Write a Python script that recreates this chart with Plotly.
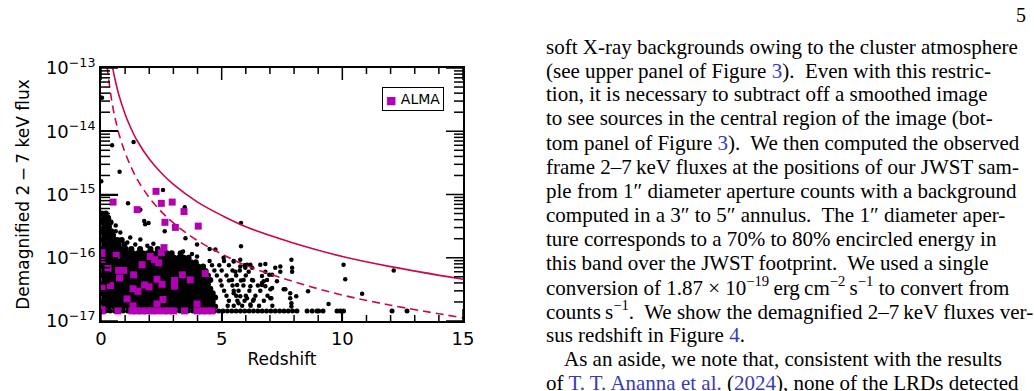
import plotly.graph_objects as go

# ---------------- data ----------------
# limiting-luminosity curves: redshift and log10 flux
SOLID_Z = [0.45, 0.5, 0.6, 0.75, 1, 1.25, 1.5, 2, 2.5, 3, 4, 5, 6, 8, 10, 12, 15]
SOLID_LOGF = [-12.91, -13.03, -13.21, -13.44, -13.73, -13.96, -14.15, -14.44, -14.66,
              -14.84, -15.12, -15.33, -15.51, -15.77, -15.98, -16.14, -16.34]
DASH_Z = [0.26, 0.3, 0.4, 0.5, 0.6, 0.75, 1, 1.25, 1.5, 2, 2.5, 3, 4, 5, 6, 8, 10, 12, 15]
DASH_LOGF = [-12.98, -13.12, -13.41, -13.64, -13.82, -14.05, -14.34, -14.57, -14.76, -15.05,
             -15.27, -15.45, -15.73, -15.94, -16.12, -16.38, -16.59, -16.75, -16.95]

# ALMA sources
ALMA_Z = [2.28, 0.50, 2.50, 2.95, 1.50, 3.44, 2.65, 3.08, 4.03, 2.61, 2.50, 0.04, 0.63, 2.04,
          2.22, 1.70, 0.04, 0.29, 0.73, 0.94, 1.35, 0.77, 2.32, 2.53, 3.05, 3.37, 3.70, 4.32,
          3.05, 0.39, 0.04, 1.33, 1.81, 1.99, 1.53, 1.08, 2.57, 3.98, 2.32, 1.33, 0.04, 2.39,
          0.04, 0.70, 1.28, 1.49, 1.70, 1.91, 2.11, 2.32, 2.59, 2.80, 3.01, 3.46, 3.98, 4.19,
          4.39, 4.60]
ALMA_LOGF = [-14.95, -15.12, -15.14, -15.12, -15.24, -15.27, -15.44, -15.52, -15.50, -15.84,
             -15.92, -15.92, -15.96, -15.98, -16.03, -16.11, -16.03, -16.17, -16.20, -16.20,
             -16.27, -16.32, -16.34, -16.42, -16.36, -16.27, -16.35, -16.25, -16.45, -16.44,
             -16.48, -16.49, -16.43, -16.46, -16.53, -16.65, -16.66, -16.73, -16.73, -16.76,
             -16.82, -16.08,
             -16.84, -16.84, -16.84, -16.84, -16.84, -16.84, -16.84, -16.84, -16.84, -16.84,
             -16.84, -16.84, -16.84, -16.84, -16.84, -16.84]

# individual JWST sources (sparse part of the distribution)
DOT_Z = [0.04, 0.46, 1.35, 0.77, 0.01, 2.57, 1.12, 1.63, 3.47, 1.79, 1.97, 1.83, 2.64, 5.80,
         5.80, 0.61, 0.61, 0.29, 0.51, 0.72, 1.09, 1.42, 1.63, 1.92, 2.17, 0.80, 1.21, 2.60,
         3.50, 3.98, 4.50, 4.74, 3.77, 3.98, 3.40, 5.08, 5.50, 5.77, 6.05, 6.26, 6.60, 6.81,
         6.67, 6.81, 6.81, 6.97, 7.22, 7.43, 7.29, 7.09, 7.06, 7.64, 7.89, 7.92, 7.92, 7.84,
         7.84, 7.89, 7.89, 8.09, 8.58, 9.43, 10.05, 10.12, 10.82, 12.13,
         5.43, 5.57, 5.77, 5.98, 6.19, 6.12, 5.91, 5.64, 6.19, 6.26, 5.50, 5.77, 6.05, 6.33,
         5.70, 6.19, 6.67, 6.74, 6.88, 6.67, 7.02, 7.09, 7.43, 7.57, 7.02,
         4.50, 5.10, 5.50, 4.60, 4.90, 5.30, 5.95, 4.70, 5.00, 5.45, 5.75, 4.80, 5.20, 5.60,
         6.00, 4.95, 5.30, 5.80, 6.30, 5.00, 5.45, 5.90, 6.50, 5.10, 5.50, 5.70, 6.15, 6.60,
         5.20, 5.60, 6.00, 6.40, 6.90, 5.30, 5.65, 5.95, 6.30, 6.75, 5.25, 5.50, 5.85, 6.20,
         6.55, 7.10]
DOT_LOGF = [-13.47, -14.22, -14.17, -14.64, -14.79, -14.93, -15.14, -15.24, -15.20, -15.42,
            -15.45, -15.47, -15.58, -15.45, -15.82, -15.49, -15.58, -15.35, -15.65, -15.71,
            -15.76, -15.79, -15.71, -15.81, -15.78, -15.60, -15.68, -15.86, -15.69, -15.79,
            -15.86, -15.87, -15.94, -15.98, -15.90, -16.00, -16.06, -16.03, -16.11, -16.16,
            -16.11, -16.22, -16.40, -16.45, -16.10, -16.27, -16.16, -16.14, -16.37, -16.48,
            -16.64, -16.50, -16.03, -16.16, -16.22, -16.56, -16.64, -16.72, -16.77, -16.61,
            -16.53, -16.73, -16.11, -16.34, -16.57, -16.20,
            -16.35, -16.22, -16.14, -16.16, -16.11, -16.22, -16.35, -16.43, -16.45, -16.35,
            -16.56, -16.61, -16.64, -16.66, -16.72, -16.74, -16.29, -16.37, -16.35, -16.43,
            -16.50, -16.27, -16.22, -16.50, -16.64,
            -16.05, -16.05, -16.05, -16.12, -16.12, -16.12, -16.12, -16.20, -16.20, -16.20,
            -16.20, -16.28, -16.28, -16.28, -16.28, -16.36, -16.36, -16.36, -16.36, -16.44,
            -16.44, -16.44, -16.44, -16.52, -16.52, -16.52, -16.52, -16.52, -16.60, -16.60,
            -16.60, -16.60, -16.60, -16.68, -16.68, -16.68, -16.68, -16.68, -16.76, -16.76,
            -16.76, -16.76, -16.76, -16.76]

# sources whose flux sits at the plotting floor
FLOOR_LOGF = -16.84
FLOOR_Z = [0.02, 0.2, 0.38, 0.56, 0.74, 0.92, 1.1, 1.28, 1.46, 1.64, 1.82, 2.0, 2.18, 2.36,
           2.54, 2.72, 2.9, 3.08, 3.26, 3.44, 3.62, 3.8, 3.98, 4.16, 4.34, 4.52, 4.7, 4.88,
           5.06, 5.24, 5.42, 5.6, 5.78, 5.96, 6.14, 6.32, 6.5, 6.68, 6.86, 7.04, 7.22, 7.4,
           7.58, 7.76, 7.94, 8.12, 8.54, 8.75, 8.95, 9.02, 9.2, 9.78, 9.92, 10.05, 12.06, 12.68]

# densely packed low-flux JWST sources, listed row by row (log10 flux -> redshifts)
CLOUD_ROWS = {
    -15.30: [0.03, 0.2],
    -15.37: [0.12, 0.3],
    -15.44: [0.03, 0.22, 0.4],
    -15.51: [0.13, 0.33],
    -15.58: [0.03, 0.23, 0.43],
    -15.65: [0.13, 0.33, 0.5],
    -15.72: [0.03, 0.23, 0.43, 0.63, 0.86],
    -15.79: [0.13, 0.33, 0.53, 0.73, 0.97],
    -15.86: [0.03, 0.23, 0.43, 0.63, 0.83, 1.03, 1.26, 1.62, 2.05, 2.35],
    -15.93: [0.13, 0.33, 0.53, 0.73, 0.93, 1.13, 1.33, 1.53, 1.73, 1.93, 2.13, 2.33, 2.53,
             2.73, 2.93, 3.3],
    -16.00: [0.03, 0.23, 0.43, 0.63, 0.83, 1.03, 1.23, 1.43, 1.63, 1.83, 2.03, 2.23, 2.43,
             2.63, 2.83, 3.03, 3.23, 3.43, 3.63],
    -16.07: [0.13, 0.33, 0.53, 0.73, 0.93, 1.13, 1.33, 1.53, 1.73, 1.93, 2.13, 2.33, 2.53,
             2.73, 2.93, 3.13, 3.33, 3.53, 3.73, 3.93],
    -16.14: [0.03, 0.23, 0.43, 0.63, 0.83, 1.03, 1.23, 1.43, 1.63, 1.83, 2.03, 2.23, 2.43,
             2.63, 2.83, 3.03, 3.23, 3.43, 3.63, 3.83, 4.03, 4.23],
    -16.21: [0.13, 0.33, 0.53, 0.73, 0.93, 1.13, 1.33, 1.53, 1.73, 1.93, 2.13, 2.33, 2.53,
             2.73, 2.93, 3.13, 3.33, 3.53, 3.73, 3.93, 4.13, 4.33],
    -16.28: [0.03, 0.23, 0.43, 0.63, 0.83, 1.03, 1.23, 1.43, 1.63, 1.83, 2.03, 2.23, 2.43,
             2.63, 2.83, 3.03, 3.23, 3.43, 3.63, 3.83, 4.03, 4.23, 4.43],
    -16.35: [0.13, 0.33, 0.53, 0.73, 0.93, 1.13, 1.33, 1.53, 1.73, 1.93, 2.13, 2.33, 2.53,
             2.73, 2.93, 3.13, 3.33, 3.53, 3.73, 3.93, 4.13, 4.33, 4.53],
    -16.42: [0.03, 0.23, 0.43, 0.63, 0.83, 1.03, 1.23, 1.43, 1.63, 1.83, 2.03, 2.23, 2.43,
             2.63, 2.83, 3.03, 3.23, 3.43, 3.63, 3.83, 4.03, 4.23, 4.43],
    -16.49: [0.13, 0.33, 0.53, 0.73, 0.93, 1.13, 1.33, 1.53, 1.73, 1.93, 2.13, 2.33, 2.53,
             2.73, 2.93, 3.13, 3.33, 3.53, 3.73, 3.93, 4.13, 4.33, 4.53],
    -16.56: [0.03, 0.23, 0.43, 0.63, 0.83, 1.03, 1.23, 1.43, 1.63, 1.83, 2.03, 2.23, 2.43,
             2.63, 2.83, 3.03, 3.23, 3.43, 3.63, 3.83, 4.03, 4.23, 4.43, 4.63],
    -16.63: [0.13, 0.33, 0.53, 0.73, 0.93, 1.13, 1.33, 1.53, 1.73, 1.93, 2.13, 2.33, 2.53,
             2.73, 2.93, 3.13, 3.33, 3.53, 3.73, 3.93, 4.13, 4.33, 4.53, 4.73],
    -16.70: [0.03, 0.23, 0.43, 0.63, 0.83, 1.03, 1.23, 1.43, 1.63, 1.83, 2.03, 2.23, 2.43,
             2.63, 2.83, 3.03, 3.23, 3.43, 3.63, 3.83, 4.03, 4.23, 4.43, 4.63],
    -16.77: [0.13, 0.33, 0.53, 0.73, 0.93, 1.13, 1.33, 1.53, 1.73, 1.93, 2.13, 2.33, 2.53,
             2.73, 2.93, 3.13, 3.33, 3.53, 3.73, 3.93, 4.13, 4.33, 4.53, 4.73],
}

Y_TICK_EXP = [-17, -16, -15, -14, -13]
Y_MINOR_MANT = [2, 3, 4, 5, 6, 7, 8, 9]
X_TICKS = [0, 5, 10, 15]
X_MINOR = [1, 2, 3, 4, 6, 7, 8, 9, 11, 12, 13, 14]

# ---------------- figure ----------------
W, H = 1034, 391
PL, PR, PT, PB = 101, 463, 68, 321     # plot-area pixel box
PW, PH = PR - PL, PB - PT
CRIMSON = "#C80A46"
MAGENTA = "#B400B4"
LINK = "#3a3ab5"
X_RANGE = [0, 15]
YLOG_RANGE = [-17, -13]
PX_PER_X = PW / (X_RANGE[1] - X_RANGE[0])          # pixels per unit redshift
PX_PER_DEC = PH / (YLOG_RANGE[1] - YLOG_RANGE[0])  # pixels per decade


def P(px):
    return (px - PL) / PW


def Q(py):
    return (PB - py) / PH


cloud_z, cloud_f = [], []
for lf, zs in CLOUD_ROWS.items():
    for z in zs:
        cloud_z.append(z)
        cloud_f.append(10 ** lf)

fig = go.Figure()
fig.add_trace(go.Scatter(x=cloud_z, y=cloud_f, mode="markers",
                         marker=dict(size=6, color="black")))
fig.add_trace(go.Scatter(x=DOT_Z, y=[10 ** v for v in DOT_LOGF], mode="markers",
                         marker=dict(size=4.5, color="black")))
fig.add_trace(go.Scatter(x=FLOOR_Z, y=[10 ** FLOOR_LOGF] * len(FLOOR_Z), mode="markers",
                         marker=dict(size=5, color="black")))
fig.add_trace(go.Scatter(x=SOLID_Z, y=[10 ** v for v in SOLID_LOGF], mode="lines",
                         line=dict(color=CRIMSON, width=1.6, shape="spline")))
fig.add_trace(go.Scatter(x=DASH_Z, y=[10 ** v for v in DASH_LOGF], mode="lines",
                         line=dict(color=CRIMSON, width=1.6, shape="spline", dash="8px,5px")))
fig.add_trace(go.Scatter(x=ALMA_Z, y=[10 ** v for v in ALMA_LOGF], mode="markers",
                         name="ALMA",
                         marker=dict(size=7, color=MAGENTA, symbol="square")))

# inward tick marks on all four sides, drawn as one line trace
tx, ty = [], []
ybot, ytop = 10.0 ** YLOG_RANGE[0], 10.0 ** YLOG_RANGE[1]


def xtick(v, length):
    d = length / PX_PER_DEC
    tx.extend([v, v, None, v, v, None])
    ty.extend([ybot, 10 ** (YLOG_RANGE[0] + d), None, ytop, 10 ** (YLOG_RANGE[1] - d), None])


def ytick(value, length):
    d = length / PX_PER_X
    tx.extend([X_RANGE[0], X_RANGE[0] + d, None, X_RANGE[1], X_RANGE[1] - d, None])
    ty.extend([value, value, None, value, value, None])


for v in X_TICKS:
    xtick(v, 12)
for v in X_MINOR:
    xtick(v, 6)
for e in Y_TICK_EXP:
    ytick(10.0 ** e, 17)
for e in Y_TICK_EXP[:-1]:
    for m in Y_MINOR_MANT:
        ytick(m * 10.0 ** e, 9)

fig.add_trace(go.Scatter(x=tx, y=ty, mode="lines", line=dict(color="black", width=1.5),
                         connectgaps=False, cliponaxis=False, hoverinfo="skip"))

tick_font = dict(family="DejaVu Sans", size=18, color="black")
title_font = dict(family="DejaVu Sans", size=17, color="black")

fig.update_xaxes(range=X_RANGE, tickmode="array", tickvals=X_TICKS,
                 ticktext=[str(v) for v in X_TICKS],
                 ticks="inside", ticklen=12, tickwidth=1.5, tickcolor="black",
                 showline=True, linewidth=2, linecolor="black", mirror=True,
                 showgrid=False, zeroline=False, tickfont=tick_font,
                 title=dict(text="Redshift", font=title_font, standoff=6))

fig.update_yaxes(type="log", range=YLOG_RANGE, tickmode="array",
                 tickvals=[10.0 ** e for e in Y_TICK_EXP],
                 ticktext=["10<sup>\u2212%d</sup>" % (-e) for e in Y_TICK_EXP],
                 ticks="inside", ticklen=17, tickwidth=1.5, tickcolor="black",
                 showline=True, linewidth=2, linecolor="black", mirror=True,
                 showgrid=False, zeroline=False, tickfont=tick_font,
                 title=dict(text="Demagnified 2\u2009\u2212\u20097 keV flux", font=title_font,
                            standoff=12))

annotations = []
# legend box
annotations.append(dict(
    xref="paper", yref="paper", x=P(444), y=Q(87), xanchor="right", yanchor="top",
    text="<span style='color:%s;font-size:11px'>\u25A0</span> ALMA" % MAGENTA,
    font=dict(family="DejaVu Sans", size=14, color="black"), showarrow=False,
    bgcolor="white", bordercolor="black", borderwidth=1, borderpad=3))

# running text of the page (right column)
L = "<span style='color:%s'>%%s</span>" % LINK
lines = [
    "soft X-ray backgrounds owing to the cluster atmosphere",
    "(see upper panel of Figure " + L % "3" + ").  Even with this restric-",
    "tion, it is necessary to subtract off a smoothed image",
    "to see sources in the central region of the image (bot-",
    "tom panel of Figure " + L % "3" + ").  We then computed the observed",
    "frame 2\u20137\u2009keV fluxes at the positions of our JWST sam-",
    "ple from 1\u2033 diameter aperture counts with a background",
    "computed in a 3\u2033 to 5\u2033 annulus.  The 1\u2033 diameter aper-",
    "ture corresponds to a 70% to 80% encircled energy in",
    "this band over the JWST footprint.  We used a single",
    "conversion of 1.87 \u00d7 10<sup>\u221219</sup>\u2009erg\u2009cm<sup>\u22122</sup>\u2009s<sup>\u22121</sup> to convert from",
    "counts\u2009s<sup>\u22121</sup>.  We show the demagnified 2\u20137\u2009keV fluxes ver-",
    "sus redshift in Figure " + L % "4" + ".",
    "As an aside, we note that, consistent with the results",
    "of " + L % "T. T. Ananna et al." + " (" + L % "2024" + "), none of the LRDs detected",
]
for i, t in enumerate(lines):
    xpx = 562 if i == 13 else 544
    ypx = 46.5 + 24 * i
    annotations.append(dict(xref="paper", yref="paper", x=P(xpx), y=Q(ypx),
                            xanchor="left", yanchor="middle", text=t, showarrow=False,
                            font=dict(family="Liberation Serif", size=21, color="black")))

# page number
annotations.append(dict(xref="paper", yref="paper", x=P(1028), y=Q(15), xanchor="right",
                        yanchor="middle", text="5", showarrow=False,
                        font=dict(family="Liberation Serif", size=20, color="black")))
# figure caption (cut by the page edge)
annotations.append(dict(xref="paper", yref="paper", x=P(7), y=Q(387), xanchor="left",
                        yanchor="top",
                        text="<b>Figure 4.</b>  Demagnified 2\u20137 keV flux versus redshift for the JWST sample",
                        showarrow=False,
                        font=dict(family="Liberation Serif", size=18, color="black")))

fig.update_layout(width=W, height=H, margin=dict(l=PL, r=W - PR, t=PT, b=H - PB),
                  paper_bgcolor="white", plot_bgcolor="white", showlegend=False,
                  annotations=annotations)

fig.write_html("out.html")
